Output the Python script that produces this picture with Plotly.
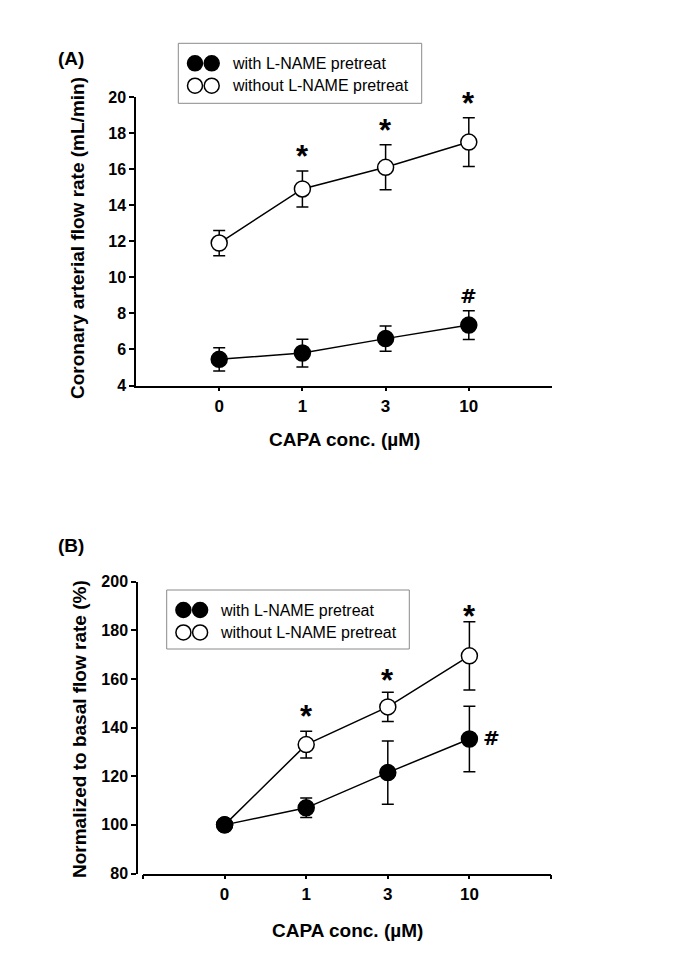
import plotly.graph_objects as go

# ---------------- data ----------------
conc_labels = ["0", "1", "3", "10"]
conc_pos = [1, 2, 3, 4]

# Panel A: coronary arterial flow rate (mL/min)
a_with_mean = [5.45, 5.8, 6.6, 7.35]
a_with_err = [0.65, 0.77, 0.7, 0.8]
a_without_mean = [11.9, 14.9, 16.1, 17.5]
a_without_err = [0.7, 1.0, 1.25, 1.35]

# Panel B: normalized to basal flow rate (%)
b_with_mean = [100, 107, 121.5, 135.3]
b_with_err = [0, 4, 13, 13.5]
b_without_mean = [100, 133, 148.5, 169.5]
b_without_err = [0, 5.5, 6, 14]

a_star_idx = [1, 2, 3]   # asterisks above "without" points
a_hash_idx = [3]         # hash above "with" point
b_star_idx = [1, 2, 3]
b_hash_idx = [3]

legend_labels = ["with L-NAME pretreat", "without L-NAME pretreat"]

# ---------------- layout helpers ----------------
OFF = 8  # page body margin
W, H = 685 - OFF, 969 - OFF
FONT = "Liberation Sans"


def px(x):
    return (x - OFF) / W


def py(y):
    return 1 - (y - OFF) / H


fig = go.Figure()

marker_size = 16
line_w = 1.5


def add_series(xa, ya, means, errs, filled):
    fig.add_trace(go.Scatter(
        x=conc_pos, y=means, xaxis=xa, yaxis=ya,
        mode="lines+markers",
        line=dict(color="black", width=line_w),
        marker=dict(size=marker_size,
                    color="black" if filled else "white",
                    line=dict(color="black", width=1.5)),
        error_y=dict(type="data", array=errs, visible=True,
                     color="black", thickness=1.5, width=6),
        showlegend=False, hoverinfo="skip",
    ))


# Panel A
add_series("x", "y", a_without_mean, a_without_err, False)
add_series("x", "y", a_with_mean, a_with_err, True)
# Panel B
add_series("x2", "y2", b_without_mean, b_without_err, False)
add_series("x2", "y2", b_with_mean, b_with_err, True)

tickfont_x = dict(family=FONT, size=17, color="black", weight="bold")
tickfont_y = dict(family=FONT, size=16, color="black", weight="bold")
axis_common = dict(showgrid=False, zeroline=False, showline=True,
                   linecolor="black", linewidth=1.5, ticks="outside",
                   tickcolor="black", tickwidth=1.5, automargin=False)

fig.update_layout(
    width=W, height=H,
    margin=dict(l=0, r=0, t=0, b=0),
    paper_bgcolor="white", plot_bgcolor="white",
    xaxis=dict(domain=[px(136), px(552)], range=[0, 5], anchor="y",
               tickvals=conc_pos, ticktext=conc_labels, ticklen=4,
               tickfont=tickfont_x, **axis_common),
    yaxis=dict(domain=[py(385.5), py(97)], range=[4, 20], dtick=2,
               anchor="x", ticklen=5, tickfont=tickfont_y, **axis_common),
    xaxis2=dict(domain=[px(143), px(551)], range=[0, 5], anchor="y2",
                tickvals=[0] + conc_pos + [5],
                ticktext=[""] + conc_labels + [""], ticklen=4,
                tickfont=tickfont_x, **axis_common),
    yaxis2=dict(domain=[py(873.5), py(581.7)], range=[80, 200], dtick=20,
                anchor="free", position=px(137), ticklen=5,
                tickfont=tickfont_y, **axis_common),
)

ann = []
title_font = dict(family=FONT, size=19, color="black", weight="bold")
# axis titles
ann.append(dict(text="Coronary arterial flow rate (mL/min)", x=px(77), y=py(238),
                xref="paper", yref="paper", textangle=-90, showarrow=False,
                font=title_font, xanchor="center", yanchor="middle"))
ann.append(dict(text="CAPA conc. (µM)", x=px(344), y=py(440),
                xref="paper", yref="paper", showarrow=False,
                font=title_font, xanchor="center", yanchor="middle"))
ann.append(dict(text="Normalized to basal flow rate (%)", x=px(79), y=py(729),
                xref="paper", yref="paper", textangle=-90, showarrow=False,
                font=title_font, xanchor="center", yanchor="middle"))
ann.append(dict(text="CAPA conc. (µM)", x=px(347), y=py(930),
                xref="paper", yref="paper", showarrow=False,
                font=title_font, xanchor="center", yanchor="middle"))
# panel labels
ann.append(dict(text="(A)", x=px(56), y=py(59), xref="paper", yref="paper",
                showarrow=False, xanchor="left", yanchor="middle",
                font=dict(family=FONT, size=19, color="black", weight="bold")))
ann.append(dict(text="(B)", x=px(56), y=py(545), xref="paper", yref="paper",
                showarrow=False, xanchor="left", yanchor="middle",
                font=dict(family=FONT, size=19, color="black", weight="bold")))

star_font = dict(family=FONT, size=31, color="black", weight="bold")
hash_font = dict(family="DejaVu Sans", size=20, color="black", weight="bold")

for i in a_star_idx:
    ann.append(dict(text="*", x=conc_pos[i], y=a_without_mean[i] + a_without_err[i],
                    xref="x", yref="y", showarrow=False, font=star_font,
                    xanchor="center", yanchor="middle", yshift=14))
for i in a_hash_idx:
    ann.append(dict(text="<b>#</b>", x=conc_pos[i], y=a_with_mean[i] + a_with_err[i],
                    xref="x", yref="y", showarrow=False, font=hash_font,
                    xanchor="center", yanchor="middle", yshift=15))
b_star_shift = [15, 12, 5]
for k, i in enumerate(b_star_idx):
    ann.append(dict(text="*", x=conc_pos[i], y=b_without_mean[i] + b_without_err[i],
                    xref="x2", yref="y2", showarrow=False, font=star_font,
                    xanchor="center", yanchor="middle", yshift=b_star_shift[k]))
for i in b_hash_idx:
    ann.append(dict(text="<b>#</b>", x=conc_pos[i], y=b_with_mean[i],
                    xref="x2", yref="y2", showarrow=False, font=hash_font,
                    xanchor="center", yanchor="middle", xshift=22, yshift=1))

# legends (drawn manually to reproduce the double-circle glyphs)
shapes = []
legend_font = dict(family=FONT, size=16, color="black")


def add_legend(left, top, right, bottom):
    shapes.append(dict(type="rect", xref="paper", yref="paper",
                       x0=px(left), x1=px(right), y0=py(bottom), y1=py(top),
                       line=dict(color="#8a8a8a", width=1), fillcolor="white",
                       layer="below"))
    rows = [top + 20, top + 42.4]
    for r, (label, filled) in enumerate(zip(legend_labels, [True, False])):
        for cx in [left + 16.7, left + 33.4]:
            shapes.append(dict(type="circle", xref="paper", yref="paper",
                               xsizemode="pixel", ysizemode="pixel",
                               xanchor=px(cx), yanchor=py(rows[r]),
                               x0=-7.5, x1=7.5, y0=-7.5, y1=7.5,
                               fillcolor="black" if filled else "white",
                               line=dict(color="black", width=1.5),
                               layer="above"))
        ann.append(dict(text=label, x=px(left + 51.7), y=py(rows[r]),
                        xref="paper", yref="paper", showarrow=False,
                        xanchor="left", yanchor="middle", font=legend_font))


add_legend(178.3, 43.3, 421.7, 103.3)
add_legend(166.7, 590, 409.3, 649)

fig.update_layout(annotations=ann, shapes=shapes)

fig.write_html("out.html")
